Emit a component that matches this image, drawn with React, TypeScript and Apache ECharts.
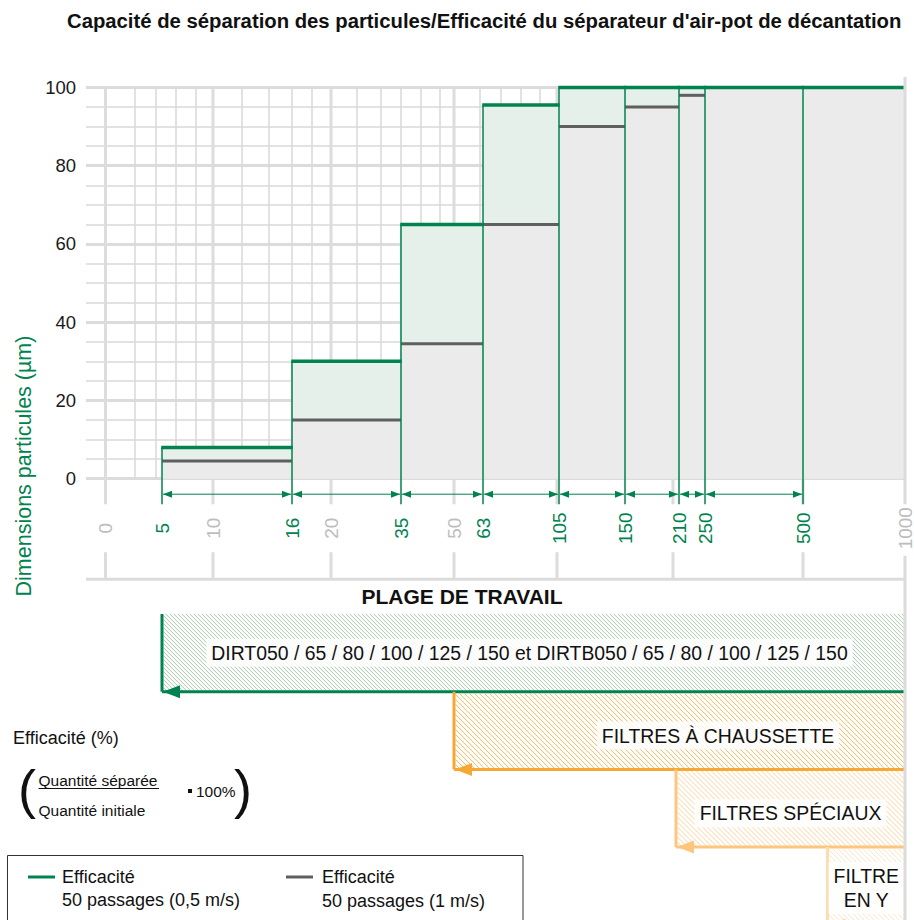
import React, { useEffect, useRef } from "react";
import * as echarts from "echarts";

const FONT = '"Liberation Sans", Arial, Helvetica, sans-serif';
const GREEN = "#00834f";
const DARK_GREY = "#5f5f5f";
const GRID_MAJOR_COLOR = "#dcdcdc";
const GRID_MINOR_COLOR = "#d8d8d8";
const FILL_GREY = "#ebebeb";
const FILL_GREEN = "#e4f0e9";

const TITLE =
  "Capacité de séparation des particules/Efficacité du séparateur d'air-pot de décantation";
const Y_AXIS_NAME = "Dimensions particules (µm)";
const WORK_RANGE_TITLE = "PLAGE DE TRAVAIL";

// The drawing's own non-linear particle-size scale (µm -> axis position)
const X_SCALE_UM = [0, 2, 4, 5, 6, 8, 10, 12, 14, 16, 18, 20, 25, 30, 35, 40, 45, 50, 60, 63, 70, 80, 90, 100, 105, 150, 200, 210, 250, 500, 1000];
const X_SCALE_POS = [0, 29.5, 50.5, 56.5, 70.5, 90.5, 107.5, 136.5, 163.5, 186.5, 206.5, 225.5, 251.5, 275.5, 295.5, 315.5, 334.5, 348.5, 374.5, 377.5, 395.5, 415.5, 434.5, 451.5, 453.5, 519.5, 567.5, 573.5, 599.5, 697.5, 799.5];

// grid ticks (µm)
const GRID_MAJOR_UM = [0, 10, 20, 50, 100, 200, 500];
const GRID_MINOR_UM = [2, 4, 6, 8, 12, 14, 16, 18, 25, 30, 35, 40, 45, 60, 70, 80, 90];
const X_MAX_UM = 1000;

// particle classes (µm) and efficiencies (%)
const CLASS_BOUNDS_UM = [5, 16, 35, 63, 105, 150, 210, 250, 500, 1000];
const EFF_05_MS = [8, 30, 65, 95.5, 100, 100, 100, 100, 100];
const EFF_1_MS = [4.5, 15, 34.5, 65, 90, 95, 98, 100, 100];
const DIMENSIONED_BOUNDS_UM = [5, 16, 35, 63, 105, 150, 210, 250, 500];

// tick labels under the axis
const GRID_LABELS = ["0", "10", "20", "50", "1000"];
const CLASS_LABELS = ["5", "16", "35", "63", "105", "150", "210", "250", "500"];

// working ranges
const RANGE_NAMES = [
  "DIRT050 / 65 / 80 / 100 / 125 / 150 et DIRTB050 / 65 / 80 / 100 / 125 / 150",
  "FILTRES À CHAUSSETTE",
  "FILTRES SPÉCIAUX",
  "FILTRE\nEN Y",
];
const RANGE_FROM_UM = [5, 50, 205, 620];
const RANGE_TO_UM = [1000, 1000, 1000, 1000];

const LEGEND_GREEN = ["Efficacité", "50 passages (0,5 m/s)"];
const LEGEND_GREY = ["Efficacité", "50 passages (1 m/s)"];

const RANGE_STYLE = [
  { border: GREEN, hatch: "#a9c7ac", gap: 4, dx: -4, dy: 0 },
  { border: "#f7a733", hatch: "#f8ba5c", gap: 5, dx: 38.5, dy: 5 },
  { border: "#fcc67f", hatch: "#fcd39b", gap: 5, dx: 0, dy: 5 },
  { border: "#fedcb1", hatch: "#fee5c4", gap: 5, dx: 0, dy: 2 },
];
const ROW_TOP = 614;
const ROW_H = 77.7;

function xPos(um: number): number {
  for (let i = 1; i < X_SCALE_UM.length; i++) {
    if (um <= X_SCALE_UM[i]) {
      const a = X_SCALE_UM[i - 1];
      const b = X_SCALE_UM[i];
      const t = (um - a) / (b - a);
      return X_SCALE_POS[i - 1] + t * (X_SCALE_POS[i] - X_SCALE_POS[i - 1]);
    }
  }
  return X_SCALE_POS[X_SCALE_POS.length - 1];
}

function txt(text: string, x: number, y: number, font: string, fill: string, align = "left", extra: any = {}) {
  return {
    type: "text",
    x,
    y,
    silent: true,
    style: { text, font, fill, textAlign: align, textVerticalAlign: "middle", ...extra },
  };
}

function buildOption(): any {
  const nClass = CLASS_BOUNDS_UM.length - 1;
  const classData: number[][] = [];
  for (let i = 0; i < nClass; i++) {
    classData.push([xPos(CLASS_BOUNDS_UM[i]), xPos(CLASS_BOUNDS_UM[i + 1]), EFF_1_MS[i], EFF_05_MS[i]]);
  }
  const boundaryData: number[][] = [];
  for (let j = 0; j < nClass; j++) {
    const left = j > 0 ? EFF_05_MS[j - 1] : 0;
    boundaryData.push([xPos(CLASS_BOUNDS_UM[j]), Math.max(left, EFF_05_MS[j])]);
  }
  const arrowData: number[][] = [];
  for (let j = 0; j < DIMENSIONED_BOUNDS_UM.length - 1; j++) {
    arrowData.push([xPos(DIMENSIONED_BOUNDS_UM[j]), xPos(DIMENSIONED_BOUNDS_UM[j + 1])]);
  }
  const vgridData = [
    ...GRID_MINOR_UM.map((u) => [xPos(u), 0]),
    ...GRID_MAJOR_UM.map((u) => [xPos(u), 1]),
  ];
  const rangeData = RANGE_FROM_UM.map((u, i) => [xPos(u), xPos(RANGE_TO_UM[i])]);

  const base = (api: any) => api.coord([0, 0])[1];
  const labelFont = `19px ${FONT}`;

  const series: any[] = [
    {
      type: "custom",
      name: "vgrid",
      silent: true,
      data: vgridData,
      encode: { x: 0, y: 1 },
      renderItem: (params: any, api: any) => {
        const x = api.coord([api.value(0), 0])[0];
        const yTop = api.coord([0, 100])[1];
        const yB = base(api);
        if (api.value(1) !== 1) {
          return {
            type: "line",
            shape: { x1: x, y1: yTop, x2: x, y2: yB },
            style: { stroke: GRID_MINOR_COLOR, lineWidth: 1.5 },
          };
        }
        return {
          type: "group",
          children: [
            { type: "line", shape: { x1: x, y1: yTop, x2: x, y2: yB + 25.5 }, style: { stroke: GRID_MAJOR_COLOR, lineWidth: 3 } },
            { type: "line", shape: { x1: x, y1: yB + 73.5, x2: x, y2: yB + 100.5 }, style: { stroke: GRID_MAJOR_COLOR, lineWidth: 3 } },
          ],
        };
      },
    },
    {
      type: "custom",
      name: "fills",
      silent: true,
      data: classData,
      encode: { x: [0, 1], y: [2, 3] },
      renderItem: (params: any, api: any) => {
        const p0 = api.coord([api.value(0), api.value(2)]);
        const p1 = api.coord([api.value(1), api.value(3)]);
        const yB = base(api);
        return {
          type: "group",
          children: [
            { type: "rect", shape: { x: p0[0], y: p0[1], width: p1[0] - p0[0], height: yB - p0[1] }, style: { fill: FILL_GREY } },
            { type: "rect", shape: { x: p0[0], y: p1[1], width: p1[0] - p0[0], height: p0[1] - p1[1] }, style: { fill: FILL_GREEN } },
          ],
        };
      },
    },
    {
      type: "custom",
      name: "Efficacité 50 passages (1 m/s)",
      silent: true,
      data: classData.map((d) => [d[0], d[1], d[2]]),
      encode: { x: [0, 1], y: 2 },
      renderItem: (params: any, api: any) => {
        const p0 = api.coord([api.value(0), api.value(2)]);
        const p1 = api.coord([api.value(1), api.value(2)]);
        return {
          type: "line",
          shape: { x1: p0[0], y1: p0[1], x2: p1[0], y2: p1[1] },
          style: { stroke: DARK_GREY, lineWidth: 3 },
        };
      },
    },
    {
      type: "custom",
      name: "boundaries",
      silent: true,
      data: boundaryData,
      encode: { x: 0, y: 1 },
      renderItem: (params: any, api: any) => {
        const p = api.coord([api.value(0), api.value(1)]);
        const yB = base(api);
        return {
          type: "line",
          shape: { x1: p[0], y1: yB + 25.5, x2: p[0], y2: p[1] },
          style: { stroke: GREEN, lineWidth: 1.5 },
        };
      },
    },
    {
      type: "custom",
      name: "Efficacité 50 passages (0,5 m/s)",
      silent: true,
      data: classData.map((d) => [d[0], d[1], d[3]]),
      encode: { x: [0, 1], y: 2 },
      renderItem: (params: any, api: any) => {
        const p0 = api.coord([api.value(0), api.value(2)]);
        const p1 = api.coord([api.value(1), api.value(2)]);
        return {
          type: "line",
          shape: { x1: p0[0] - 0.75, y1: p0[1], x2: p1[0] + 0.75, y2: p1[1] },
          style: { stroke: GREEN, lineWidth: 3.5 },
        };
      },
    },
    {
      type: "custom",
      name: "arrows",
      silent: true,
      data: arrowData,
      encode: { x: [0, 1] },
      renderItem: (params: any, api: any) => {
        const x0 = api.coord([api.value(0), 0])[0];
        const x1 = api.coord([api.value(1), 0])[0];
        const y = base(api) + 15.5;
        const L = 9;
        const H = 3.5;
        return {
          type: "group",
          children: [
            { type: "line", shape: { x1: x0 + 1, y1: y, x2: x1 - 1, y2: y }, style: { stroke: GREEN, lineWidth: 1 } },
            { type: "polygon", shape: { points: [[x0 + 1, y], [x0 + 1 + L, y - H], [x0 + 1 + L, y + H]] }, style: { fill: GREEN } },
            { type: "polygon", shape: { points: [[x1 - 1, y], [x1 - 1 - L, y - H], [x1 - 1 - L, y + H]] }, style: { fill: GREEN } },
          ],
        };
      },
    },
    {
      type: "custom",
      name: "gridLabels",
      silent: true,
      data: GRID_LABELS.map((l) => [xPos(Number(l)), 0]),
      encode: { x: 0, y: 1 },
      renderItem: (params: any, api: any) => {
        const x = api.coord([api.value(0), 0])[0];
        return {
          type: "text",
          x,
          y: base(api) + 49.5,
          rotation: Math.PI / 2,
          style: {
            text: GRID_LABELS[params.dataIndex],
            font: labelFont,
            fill: "#bdbdbd",
            textAlign: "center",
            textVerticalAlign: "middle",
          },
        };
      },
    },
    {
      type: "custom",
      name: "classLabels",
      silent: true,
      data: CLASS_LABELS.map((l) => [xPos(Number(l)), 0]),
      encode: { x: 0, y: 1 },
      renderItem: (params: any, api: any) => {
        const x = api.coord([api.value(0), 0])[0];
        return {
          type: "text",
          x,
          y: base(api) + 49.5,
          rotation: Math.PI / 2,
          style: {
            text: CLASS_LABELS[params.dataIndex],
            font: labelFont,
            fill: GREEN,
            textAlign: "center",
            textVerticalAlign: "middle",
          },
        };
      },
    },
    {
      type: "custom",
      name: "ranges",
      silent: true,
      data: rangeData,
      encode: { x: [0, 1] },
      renderItem: (params: any, api: any) => {
        const i = params.dataIndex;
        const st = RANGE_STYLE[i];
        const x0 = api.coord([api.value(0), 0])[0];
        const x1 = api.coord([api.value(1), 0])[0];
        const top = ROW_TOP + i * ROW_H;
        const bot = top + ROW_H;
        const children: any[] = [];
        const hTop = top + (i === 0 ? 0 : 1.5);
        const hx0 = x0 + 1.5;
        const h = bot - hTop;
        const w = x1 - hx0 - 1;
        for (let c = -h; c < w; c += st.gap) {
          const vs = Math.max(0, -c);
          const ve = Math.min(h, w - c);
          if (ve <= vs) continue;
          children.push({
            type: "line",
            shape: { x1: hx0 + c + vs, y1: hTop + vs, x2: hx0 + c + ve, y2: hTop + ve },
            style: { stroke: st.hatch, lineWidth: 1 },
          });
        }
        children.push({ type: "line", shape: { x1: x0, y1: top, x2: x0, y2: bot }, style: { stroke: st.border, lineWidth: 3 } });
        children.push({ type: "line", shape: { x1: x0, y1: bot, x2: x1, y2: bot }, style: { stroke: st.border, lineWidth: 3 } });
        children.push({
          type: "polygon",
          shape: { points: [[x0 + 1, bot], [x0 + 18, bot - 6.5], [x0 + 18, bot + 6.5]] },
          style: { fill: st.border },
        });
        children.push({
          type: "text",
          x: (x0 + x1) / 2 + st.dx,
          y: (top + bot) / 2 + st.dy,
          style: {
            text: RANGE_NAMES[i],
            font: `19.4px ${FONT}`,
            fill: "#111111",
            textAlign: "center",
            textVerticalAlign: "middle",
            lineHeight: 24,
            backgroundColor: "rgba(255,255,255,0.85)",
            padding: [2, 5],
          },
        });
        return { type: "group", children };
      },
    },
    {
      type: "custom",
      name: "frame",
      silent: true,
      data: [[xPos(0) - 19.5, xPos(X_MAX_UM)]],
      encode: { x: [0, 1] },
      renderItem: (params: any, api: any) => {
        const xl = api.coord([api.value(0), 0])[0];
        const xr = api.coord([api.value(1), 0])[0];
        const yB = base(api);
        const yTop = api.coord([0, 100])[1];
        return {
          type: "group",
          children: [
            { type: "line", shape: { x1: xl, y1: yB + 100.5, x2: xr, y2: yB + 100.5 }, style: { stroke: GRID_MAJOR_COLOR, lineWidth: 3 } },
            { type: "line", shape: { x1: xr, y1: yTop - 10.5, x2: xr, y2: yB + 25.5 }, style: { stroke: GRID_MAJOR_COLOR, lineWidth: 3 } },
            { type: "line", shape: { x1: xr, y1: yB + 77, x2: xr, y2: 925 }, style: { stroke: GRID_MAJOR_COLOR, lineWidth: 3 } },
          ],
        };
      },
    },
  ];

  const formulaFont = `15.5px ${FONT}`;
  const graphic: any[] = [
    {
      type: "text",
      x: 24,
      y: 466,
      rotation: Math.PI / 2,
      silent: true,
      style: { text: Y_AXIS_NAME, font: `21.5px ${FONT}`, fill: GREEN, textAlign: "center", textVerticalAlign: "middle" },
    },
    txt(WORK_RANGE_TITLE, 462, 596, `bold 21px ${FONT}`, "#111111", "center"),
    txt("Efficacité (%)", 13, 738, `18px ${FONT}`, "#111111"),
    txt("(", 27, 789, `54px ${FONT}`, "#111111", "center"),
    txt("Quantité séparée", 38.5, 780, formulaFont, "#111111"),
    { type: "line", silent: true, shape: { x1: 38.5, y1: 788.5, x2: 159, y2: 788.5 }, style: { stroke: "#111111", lineWidth: 1 } },
    txt("Quantité initiale", 38.5, 810.5, formulaFont, "#111111"),
    { type: "rect", silent: true, shape: { x: 188, y: 789, width: 4, height: 4 }, style: { fill: "#111111" } },
    txt("100%", 196, 791, formulaFont, "#111111"),
    txt(")", 243, 789, `54px ${FONT}`, "#111111", "center"),
    { type: "rect", silent: true, shape: { x: 7.5, y: 855.5, width: 515.5, height: 100 }, style: { fill: "none", stroke: "#333333", lineWidth: 1 } },
    { type: "line", silent: true, shape: { x1: 28, y1: 877, x2: 55, y2: 877 }, style: { stroke: GREEN, lineWidth: 3 } },
    txt(LEGEND_GREEN[0], 62, 877, `18px ${FONT}`, "#111111"),
    txt(LEGEND_GREEN[1], 62, 900, `18px ${FONT}`, "#111111"),
    { type: "line", silent: true, shape: { x1: 286, y1: 877, x2: 313, y2: 877 }, style: { stroke: DARK_GREY, lineWidth: 3 } },
    txt(LEGEND_GREY[0], 322, 877, `18px ${FONT}`, "#111111"),
    txt(LEGEND_GREY[1], 322, 901, `18px ${FONT}`, "#111111"),
  ];

  return {
    animation: false,
    backgroundColor: "#ffffff",
    title: {
      text: TITLE,
      left: 67,
      top: 11,
      padding: 0,
      textStyle: { fontSize: 20.3, fontWeight: "bold", color: "#111111", fontFamily: FONT },
    },
    grid: { left: 86, right: 9, top: 87.5, height: 391.2, containLabel: false },
    xAxis: { type: "value", min: xPos(0) - 19.5, max: xPos(X_MAX_UM), show: false },
    yAxis: {
      type: "value",
      min: 0,
      max: 100,
      interval: 20,
      axisLine: { show: false },
      axisTick: { show: false },
      axisLabel: { color: "#1a1a1a", fontSize: 18.5, margin: 10, fontFamily: FONT },
      splitLine: { show: true, lineStyle: { color: GRID_MAJOR_COLOR, width: 3 } },
      minorTick: { show: false, splitNumber: 4 },
      minorSplitLine: { show: true, lineStyle: { color: GRID_MINOR_COLOR, width: 1.5 } },
    },
    series,
    graphic,
  };
}

export default function App() {
  const ref = useRef<HTMLDivElement>(null);
  useEffect(() => {
    document.body.style.margin = "0";
    const chart = echarts.init(ref.current as HTMLDivElement, undefined, { renderer: "svg" });
    chart.setOption(buildOption());
    return () => chart.dispose();
  }, []);
  return <div ref={ref} style={{ position: "absolute", left: 0, top: 0, width: 914, height: 920 }} />;
}
